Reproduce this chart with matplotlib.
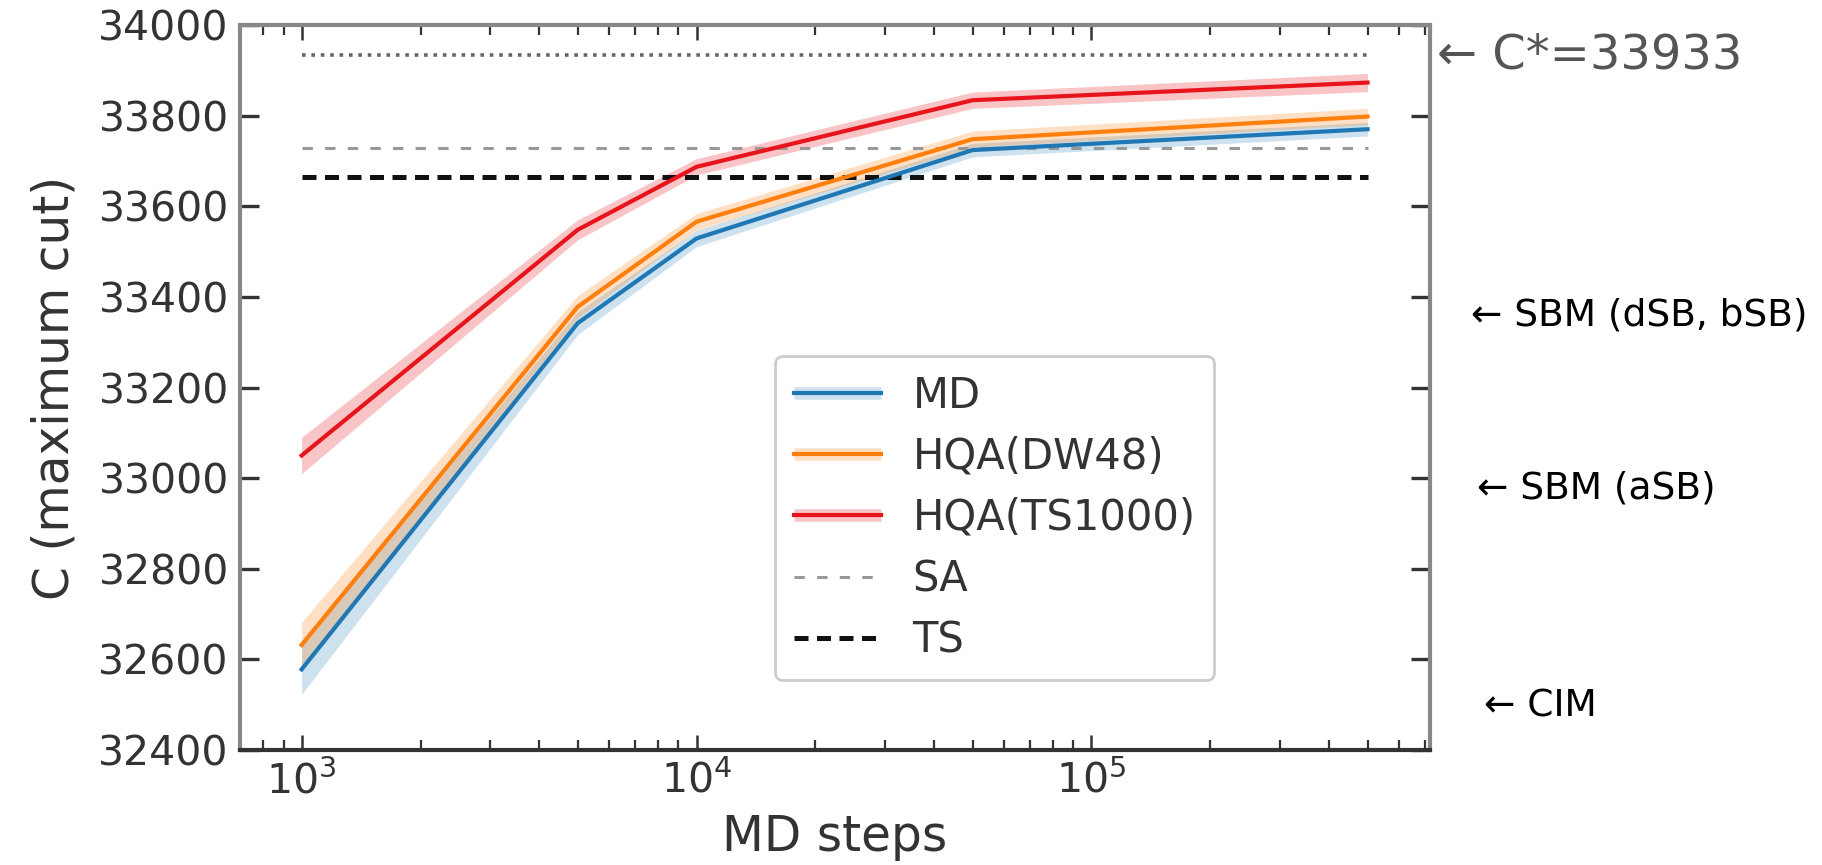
import matplotlib
matplotlib.use("Agg")
import matplotlib.pyplot as plt
from matplotlib.lines import Line2D
import numpy as np

plt.rcParams['font.family'] = ['DejaVu Sans']

# ---- data ----
md_steps = [1000, 5000, 10000, 50000, 500000]
md_vals = [32578, 33342, 33529, 33724, 33770]
md_err = [55, 25, 18, 15, 15]
dw48_vals = [32632, 33378, 33566, 33748, 33798]
dw48_err = [50, 25, 18, 18, 18]
ts1000_vals = [33050, 33548, 33687, 33834, 33873]
ts1000_err = [40, 22, 18, 18, 20]

c_star = 33933
sa_val = 33729
ts_val = 33664

yticks = [32400, 32600, 32800, 33000, 33200, 33400, 33600, 33800, 34000]

annot_labels = ["\u2190 SBM (dSB, bSB)", "\u2190 SBM (aSB)", "\u2190 CIM"]
annot_values = [33360, 32978, 32497]

# ---- figure ----
fig = plt.figure(figsize=(18.22, 8.65), dpi=100)
ax = fig.add_axes([0.1317, 0.1329, 0.6532, 0.8382])
ax.set_xscale('log')

blue = '#1f77b4'
orange = '#ff7f0e'
red = '#e8141c'

x = np.array(md_steps)
series = [
    ("MD", md_vals, md_err, blue, 0.22),
    ("HQA(DW48)", dw48_vals, dw48_err, orange, 0.24),
    ("HQA(TS1000)", ts1000_vals, ts1000_err, red, 0.25),
]

# reference lines
ax.hlines(c_star, md_steps[0], md_steps[-1], colors='#666666', linestyles=(0, (1.0, 1.6)),
          linewidth=2.6, zorder=1.5)
ax.hlines(sa_val, md_steps[0], md_steps[-1], colors='#999999', linestyles=(0, (3.4, 4.0)),
          linewidth=2.2, zorder=1.5)
ax.hlines(ts_val, md_steps[0], md_steps[-1], colors='#111111', linestyles=(0, (2.8, 1.7)),
          linewidth=3.6, zorder=1.5)

handles = []
for name, vals, err, col, a in series:
    v = np.array(vals)
    e = np.array(err)
    ax.fill_between(x, v - e, v + e, color=col, alpha=a, linewidth=0, zorder=1)
    ax.plot(x, v, color=col, linewidth=3.0, zorder=2)
    band = Line2D([], [], color=col, alpha=a, linewidth=9, solid_capstyle='butt')
    ln = Line2D([], [], color=col, linewidth=3.0)
    handles.append((band, ln))

sa_h = Line2D([], [], color='#999999', linestyle=(0, (3.4, 4.0)), linewidth=2.2)
ts_h = Line2D([], [], color='#111111', linestyle=(0, (2.8, 1.7)), linewidth=3.6)
handles += [sa_h, ts_h]
labels = ["MD", "HQA(DW48)", "HQA(TS1000)", "SA", "TS"]

ax.set_xlim(698, 7.2e5)
ax.set_ylim(32400, 34000)
ax.set_yticks(yticks)
ax.set_yticklabels([str(t) for t in yticks])

ax.tick_params(axis='both', which='both', direction='in', top=True, right=True,
               labelsize=29.5, labelcolor='#333333', colors='#333333')
ax.tick_params(axis='both', which='major', length=11, width=1.8, pad=8)
ax.tick_params(axis='both', which='minor', length=7, width=1.6)
ax.tick_params(axis='y', which='major', length=14, width=2.4)

for side in ['left', 'top', 'right']:
    ax.spines[side].set_color('#888888')
    ax.spines[side].set_linewidth(3)
ax.spines['bottom'].set_color('#333333')
ax.spines['bottom'].set_linewidth(3)

ax.set_xlabel("MD steps", fontsize=35, color='#333333', labelpad=8)
ax.set_ylabel("C (maximum cut)", fontsize=35, color='#333333', labelpad=14)

leg = ax.legend(handles, labels, loc='lower left', bbox_to_anchor=(0.4496, 0.0966),
                borderaxespad=0, fontsize=30, labelspacing=0.46, handlelength=2.1,
                handletextpad=0.75, borderpad=0.45, fancybox=True, framealpha=1,
                edgecolor='#cccccc')
leg.get_frame().set_linewidth(2)
for t in leg.get_texts():
    t.set_color('#333333')

# annotations on the right
ax.text(1.006, c_star, "\u2190 C*=33933", transform=ax.get_yaxis_transform(),
        fontsize=34.5, color='#555555', va='center', ha='left', clip_on=False)
annot_x = [1.034, 1.039, 1.045]
for lab, val, xx in zip(annot_labels, annot_values, annot_x):
    ax.text(xx, val, lab, transform=ax.get_yaxis_transform(), fontsize=27,
            color='black', va='center', ha='left', clip_on=False)

fig.savefig("out.png", dpi=100)
